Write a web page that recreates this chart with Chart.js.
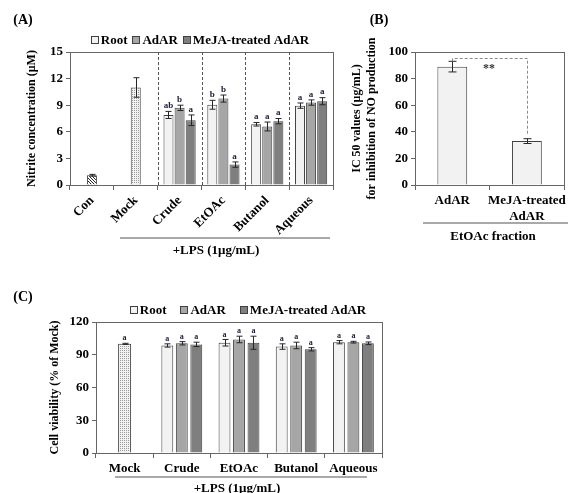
<!DOCTYPE html>
<html><head><meta charset="utf-8">
<script src="https://cdn.jsdelivr.net/npm/chart.js@4.4.0/dist/chart.umd.min.js"></script>
<style>
html,body{margin:0;padding:0;background:#fff;width:569px;height:493px;overflow:hidden;position:relative}
canvas{position:absolute}
</style></head><body>
<canvas id="cA" width="345" height="260" style="left:0px;top:0px"></canvas>
<canvas id="cB" width="224" height="260" style="left:345px;top:0px"></canvas>
<canvas id="cC" width="569" height="203" style="left:0px;top:290px"></canvas>
<script>
const FONT = "'Liberation Serif','Times New Roman',serif";

// ---------- Panel A data ----------
const catsA = ['Con', 'Mock', 'Crude', 'EtOAc', 'Butanol', 'Aqueous'];
const ctrlA = [1.1, 11.0, null, null, null, null];
const ctrlAErr = [0.1, 1.1, null, null, null, null];
const rootA = [null, null, 7.9, 9.05, 6.85, 8.95];
const rootAErr = [null, null, 0.4, 0.5, 0.2, 0.3];
const rootALet = [null, null, 'ab', 'b', 'a', 'a'];
const adarA = [null, null, 8.7, 9.75, 6.6, 9.3];
const adarAErr = [null, null, 0.3, 0.4, 0.5, 0.3];
const adarALet = [null, null, 'b', 'b', 'a', 'a'];
const mejaA = [null, null, 7.3, 2.3, 7.2, 9.45];
const mejaAErr = [null, null, 0.6, 0.3, 0.3, 0.4];
const mejaALet = [null, null, 'a', 'a', 'a', 'a'];
const ticksA = [0, 3, 6, 9, 12, 15];

// ---------- Panel B data ----------
const catsB = ['AdAR', ['MeJA-treated', 'AdAR']];
const ic50B = [89, 33];
const ic50BErr = [4, 1.8];
const ticksB = [0, 20, 40, 60, 80, 100];

// ---------- Panel C data ----------
const catsC = ['Mock', 'Crude', 'EtOAc', 'Butanol', 'Aqueous'];
const mockC = [100, null, null, null, null];
const mockCErr = [0.5, null, null, null, null];
const mockCLet = ['a', null, null, null, null];
const rootC = [null, 98.5, 101, 97.5, 101.5];
const rootCErr = [null, 1.5, 3, 2.5, 1.5];
const rootCLet = [null, 'a', 'a', 'a', 'a'];
const adarC = [null, 100.5, 104, 98.5, 101.5];
const adarCErr = [null, 1.5, 3, 3, 0.8];
const adarCLet = [null, 'a', 'a', 'a', 'a'];
const mejaC = [null, 99.5, 101, 95, 100.5];
const mejaCErr = [null, 2, 6, 1.5, 1.2];
const mejaCLet = [null, 'a', 'a', 'a', 'a'];
const ticksC = [0, 30, 60, 90, 120];

const COL_ROOT = '#f2f2f2', COL_ADAR = '#a6a6a6', COL_MEJA = '#7f7f7f';
const EDGE = '#404040', AXIS = '#666666';

function patHatch() {
  const c = document.createElement('canvas'); c.width = 3; c.height = 3;
  const g = c.getContext('2d');
  g.fillStyle = '#ffffff'; g.fillRect(0, 0, 3, 3);
  g.fillStyle = '#222222';
  g.fillRect(0, 0, 1, 1); g.fillRect(1, 1, 1, 1); g.fillRect(2, 2, 1, 1);
  return g.createPattern(c, 'repeat');
}
function patDots() {
  const c = document.createElement('canvas'); c.width = 2; c.height = 2;
  const g = c.getContext('2d');
  g.fillStyle = '#f2f2f2'; g.fillRect(0, 0, 2, 2);
  g.fillStyle = '#9a9a9a';
  g.fillRect(0, 0, 1, 1);
  return g.createPattern(c, 'repeat');
}
const HATCH = patHatch(), DOTS = patDots();

function bold(size) { return { family: FONT, size: size, weight: 'bold' }; }

const errPlugin = {
  id: 'errbars',
  afterDatasetsDraw(chart, args, opts) {
    const ctx = chart.ctx, ys = chart.scales.y;
    chart.data.datasets.forEach((ds, i) => {
      const meta = chart.getDatasetMeta(i);
      meta.data.forEach((bar, j) => {
        const v = ds.data[j];
        if (v == null) return;
        const e = ds.err ? (ds.err[j] || 0) : 0;
        const x = Math.round(bar.x) + 0.5;
        const yt = ys.getPixelForValue(v + e), yb = ys.getPixelForValue(v - e);
        const cw = opts.cap || 3;
        ctx.save();
        ctx.strokeStyle = '#262626'; ctx.lineWidth = 1;
        ctx.beginPath();
        ctx.moveTo(x, yt); ctx.lineTo(x, yb);
        ctx.moveTo(x - cw, yt); ctx.lineTo(x + cw, yt);
        ctx.moveTo(x - cw, yb); ctx.lineTo(x + cw, yb);
        ctx.stroke();
        if (ds.letters && ds.letters[j]) {
          ctx.fillStyle = '#1c1c3a';
          ctx.font = 'bold ' + (opts.letterSize || 9) + 'px ' + FONT;
          ctx.textAlign = 'center'; ctx.textBaseline = 'bottom';
          ctx.fillText(ds.letters[j], bar.x, yt - 1);
        }
        ctx.restore();
      });
    });
  }
};

const framePlugin = {
  id: 'frame',
  afterDraw(chart, args, opts) {
    const ctx = chart.ctx, a = chart.chartArea;
    ctx.save();
    ctx.strokeStyle = AXIS; ctx.lineWidth = 1;
    ctx.strokeRect(Math.round(a.left) + 0.5, Math.round(a.top) + 0.5, Math.round(a.right - a.left), Math.round(a.bottom - a.top));
    ctx.restore();
    if (opts.legend) {
      const L = opts.legend;
      ctx.save();
      ctx.font = 'bold ' + L.size + 'px ' + FONT;
      ctx.textBaseline = 'middle';
      let widths = L.items.map(it => 8 + 2 + ctx.measureText(it.label).width);
      let total = widths.reduce((s, w) => s + w, 0) + L.gap * (L.items.length - 1);
      let x = L.cx - total / 2;
      L.items.forEach((it, k) => {
        ctx.fillStyle = it.color; ctx.strokeStyle = EDGE; ctx.lineWidth = 1;
        ctx.fillRect(Math.round(x) + 0.5, Math.round(L.y - 4) + 0.5, 7, 7);
        ctx.strokeRect(Math.round(x) + 0.5, Math.round(L.y - 4) + 0.5, 7, 7);
        ctx.fillStyle = '#000'; ctx.textAlign = 'left';
        ctx.fillText(it.label, x + 10, L.y + 1);
        x += widths[k] + L.gap;
      });
      ctx.restore();
    }
    if (opts.extra) opts.extra(chart, ctx);
  }
};

function textAt(ctx, s, x, y, size) {
  ctx.save(); ctx.fillStyle = '#000'; ctx.font = 'bold ' + size + 'px ' + FONT;
  ctx.textAlign = 'center'; ctx.textBaseline = 'middle'; ctx.fillText(s, x, y); ctx.restore();
}
function hline(ctx, x1, x2, y) {
  ctx.save(); ctx.strokeStyle = '#8c8c8c'; ctx.lineWidth = 1.5;
  ctx.beginPath(); ctx.moveTo(x1, y); ctx.lineTo(x2, y); ctx.stroke(); ctx.restore();
}

function yAxis(min, max, step, title, width, tickVals) {
  return {
    min: min, max: max,
    afterBuildTicks(s) { s.ticks = tickVals.map(v => ({ value: v })); },
    ticks: { font: bold(13), color: '#000', padding: 3, stepSize: step },
    grid: { drawOnChartArea: false, tickLength: 4, color: AXIS },
    border: { color: AXIS },
    title: { display: true, text: title, font: bold(12), color: '#000', padding: { top: 4, bottom: 0 } },
    afterFit(s) { s.width = width; }
  };
}
function xAxis(height, rot) {
  return {
    offset: true,
    ticks: { font: bold(13), color: '#000', maxRotation: rot, minRotation: rot, padding: 3, autoSkip: false },
    grid: { drawOnChartArea: false, offset: true, tickLength: 5, color: AXIS },
    border: { color: AXIS },
    afterFit(s) { s.height = height; }
  };
}

Chart.defaults.animation = false;
Chart.defaults.font.family = FONT;

// ---------- Chart A ----------
new Chart(document.getElementById('cA'), {
  type: 'bar',
  data: {
    labels: catsA,
    datasets: [
      { label: 'Control', data: ctrlA, err: ctrlAErr, skipNull: true, maxBarThickness: 10,
        backgroundColor: c => c.dataIndex === 0 ? HATCH : DOTS, borderColor: EDGE, borderWidth: 1 },
      { label: 'Root', data: rootA, err: rootAErr, letters: rootALet, skipNull: true, maxBarThickness: 10,
        backgroundColor: COL_ROOT, borderColor: EDGE, borderWidth: 1 },
      { label: 'AdAR', data: adarA, err: adarAErr, letters: adarALet, skipNull: true, maxBarThickness: 10,
        backgroundColor: COL_ADAR, borderColor: EDGE, borderWidth: 1 },
      { label: 'MeJA-treated AdAR', data: mejaA, err: mejaAErr, letters: mejaALet, skipNull: true, maxBarThickness: 10,
        backgroundColor: COL_MEJA, borderColor: EDGE, borderWidth: 1 }
    ]
  },
  options: {
    responsive: false,
    categoryPercentage: 0.76, barPercentage: 0.92,
    layout: { padding: { left: 21, top: 52, right: 12, bottom: 0 } },
    plugins: {
      legend: { display: false }, tooltip: { enabled: false },
      errbars: { cap: 3, letterSize: 9 },
      frame: {
        legend: { cx: 200, y: 40, size: 13, gap: 5, items: [
          { label: 'Root', color: COL_ROOT }, { label: 'AdAR', color: COL_ADAR }, { label: 'MeJA-treated AdAR', color: COL_MEJA }] },
        extra(chart, ctx) {
          const xs = chart.scales.x, a = chart.chartArea;
          ctx.save(); ctx.strokeStyle = '#555'; ctx.lineWidth = 1; ctx.setLineDash([3, 2]);
          for (let i = 2; i < catsA.length; i++) {
            const bx = Math.round((xs.getPixelForTick(i - 1) + xs.getPixelForTick(i)) / 2) + 0.5;
            ctx.beginPath(); ctx.moveTo(bx, a.top); ctx.lineTo(bx, a.bottom); ctx.stroke();
          }
          ctx.restore();
          hline(ctx, 120, 330, 238);
          textAt(ctx, '+LPS (1μg/mL)', 216, 251, 13);
          textAt(ctx, '(A)', 23, 20, 14);
        }
      }
    },
    scales: { x: xAxis(75, 45), y: yAxis(0, 15, 3, 'Nitrite concentration (μM)', 49, ticksA) }
  },
  plugins: [errPlugin, framePlugin]
});

// ---------- Chart B ----------
new Chart(document.getElementById('cB'), {
  type: 'bar',
  data: {
    labels: catsB,
    datasets: [{ label: 'IC50', data: ic50B, err: ic50BErr, backgroundColor: COL_ROOT, borderColor: EDGE, borderWidth: 1 }]
  },
  options: {
    responsive: false,
    categoryPercentage: 0.8, barPercentage: 0.5,
    layout: { padding: { left: 1, top: 52, right: 1, bottom: 0 } },
    plugins: {
      legend: { display: false }, tooltip: { enabled: false },
      errbars: { cap: 4 },
      frame: {
        extra(chart, ctx) {
          const ys = chart.scales.y;
          const m0 = chart.getDatasetMeta(0).data;
          const x0 = Math.round(m0[0].x) + 0.5, x1 = Math.round(m0[1].x) + 0.5;
          const t0 = ys.getPixelForValue(ic50B[0] + ic50BErr[0]);
          const t1 = ys.getPixelForValue(ic50B[1] + ic50BErr[1]);
          const top = Math.round(t0) - 2.5;
          ctx.save(); ctx.strokeStyle = '#8a8a8a'; ctx.lineWidth = 1; ctx.setLineDash([3, 2]);
          ctx.beginPath(); ctx.moveTo(x0, t0); ctx.lineTo(x0, top); ctx.lineTo(x1, top); ctx.lineTo(x1, t1 - 3); ctx.stroke();
          ctx.restore();
          ctx.save(); ctx.fillStyle = '#333'; ctx.font = 'bold 12px ' + FONT; ctx.textAlign = 'center'; ctx.textBaseline = 'middle';
          ctx.fillText('**', (x0 + x1) / 2 - 1, top + 10); ctx.restore();
          hline(ctx, 78, 223, 223);
          textAt(ctx, 'EtOAc fraction', 148, 237, 13);
          textAt(ctx, '(B)', 34, 20, 14);
        }
      }
    },
    scales: { x: xAxis(75, 0), y: yAxis(0, 100, 20, ['IC 50 values (μg/mL)', 'for inhibition of NO production'], 69, ticksB) }
  },
  plugins: [errPlugin, framePlugin]
});

// ---------- Chart C ----------
new Chart(document.getElementById('cC'), {
  type: 'bar',
  data: {
    labels: catsC,
    datasets: [
      { label: 'Mock', data: mockC, err: mockCErr, letters: mockCLet, skipNull: true, maxBarThickness: 13,
        backgroundColor: DOTS, borderColor: EDGE, borderWidth: 1 },
      { label: 'Root', data: rootC, err: rootCErr, letters: rootCLet, skipNull: true, maxBarThickness: 12,
        backgroundColor: COL_ROOT, borderColor: EDGE, borderWidth: 1 },
      { label: 'AdAR', data: adarC, err: adarCErr, letters: adarCLet, skipNull: true, maxBarThickness: 12,
        backgroundColor: COL_ADAR, borderColor: EDGE, borderWidth: 1 },
      { label: 'MeJA-treated AdAR', data: mejaC, err: mejaCErr, letters: mejaCLet, skipNull: true, maxBarThickness: 12,
        backgroundColor: COL_MEJA, borderColor: EDGE, borderWidth: 1 }
    ]
  },
  options: {
    responsive: false,
    categoryPercentage: 0.76, barPercentage: 0.82,
    layout: { padding: { left: 44, top: 32, right: 187, bottom: 0 } },
    plugins: {
      legend: { display: false }, tooltip: { enabled: false },
      errbars: { cap: 3, letterSize: 8 },
      frame: {
        legend: { cx: 248, y: 20, size: 13, gap: 14, items: [
          { label: 'Root', color: COL_ROOT }, { label: 'AdAR', color: COL_ADAR }, { label: 'MeJA-treated AdAR', color: COL_MEJA }] },
        extra(chart, ctx) {
          hline(ctx, 115, 367, 187);
          textAt(ctx, '+LPS (1μg/mL)', 237, 199, 13);
          textAt(ctx, '(C)', 23, 7, 14);
        }
      }
    },
    scales: { x: xAxis(40, 0), y: yAxis(0, 120, 30, 'Cell viability (% of Mock)', 52, ticksC) }
  },
  plugins: [errPlugin, framePlugin]
});
</script>
</body></html>
